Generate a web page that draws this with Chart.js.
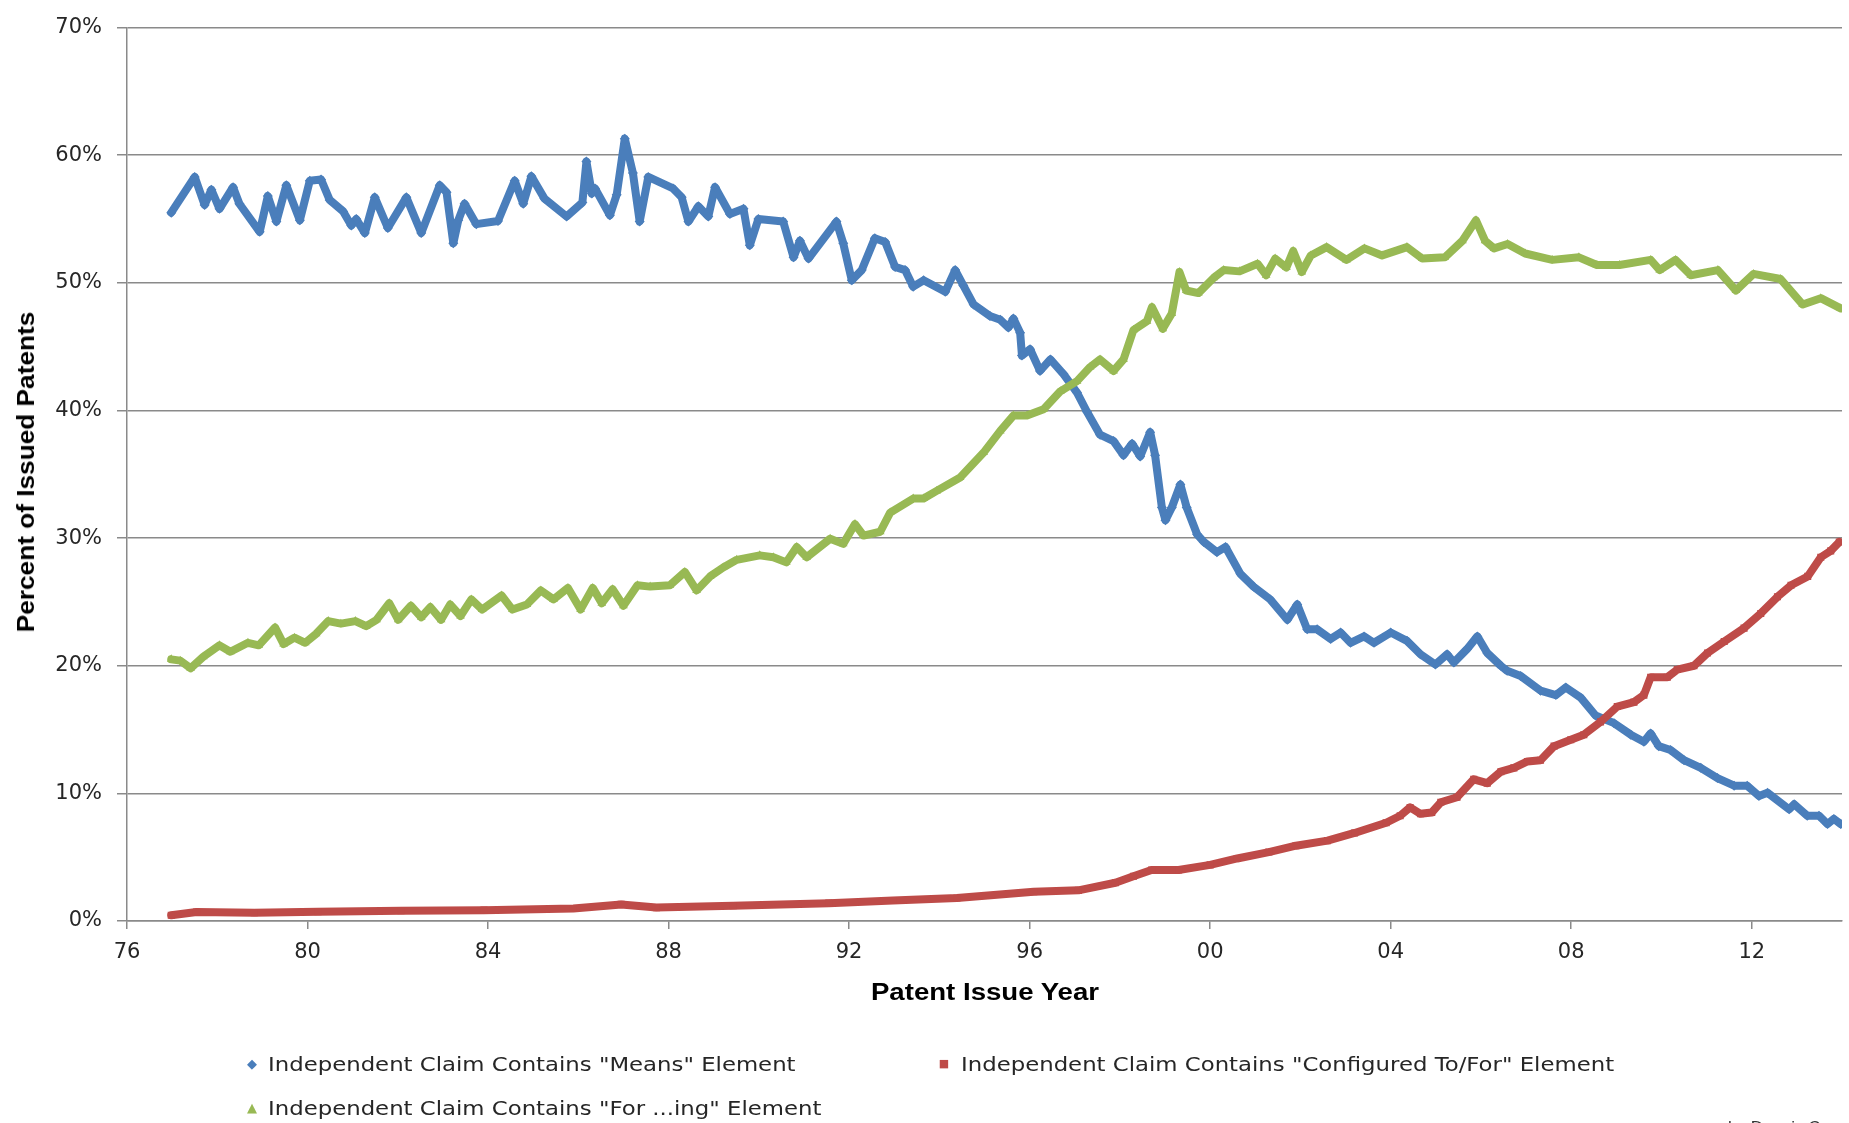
<!DOCTYPE html>
<html><head><meta charset="utf-8">
<script src="https://cdn.jsdelivr.net/npm/chart.js@4.4.1/dist/chart.umd.min.js"></script>
<style>
html,body{margin:0;padding:0;background:#fff;overflow:hidden;width:1849px;height:1123px;}
#wrap{position:relative;width:1849px;height:1123px;overflow:hidden;}
canvas{position:absolute;left:0;top:0;}
.t{position:absolute;white-space:nowrap;color:#000;font-family:"Liberation Sans",Arial,sans-serif;font-weight:bold;font-size:23px;line-height:28px;}
#xt{left:985px;top:992px;transform:translate(-50%,-50%) scaleX(1.2);}
#yt{left:26px;top:472px;transform:translate(-50%,-50%) rotate(-90deg) scaleX(1.14);}
.lg{position:absolute;white-space:nowrap;color:#262626;font-family:"DejaVu Sans",sans-serif;font-size:20px;line-height:24px;transform-origin:left center;transform:scaleX(1.14);}
.mk{position:absolute;line-height:14px;transform:translate(-50%,-50%);font-family:"DejaVu Sans",sans-serif;}
#credit{position:absolute;left:1728px;top:1118px;font-family:"Liberation Sans",Arial,sans-serif;font-size:17px;color:#333;white-space:nowrap;}
</style></head><body>
<div id="wrap">
<canvas id="c" width="1849" height="1123"></canvas>
<div id="xt" class="t">Patent Issue Year</div>
<div id="yt" class="t">Percent of Issued Patents</div>
<div id="legend"></div>
<div id="credit">by Dennis Crouch</div>
</div>
<script>
// ---- data (year offset from 1900, percent) ----
const seriesNames = [
  'Independent Claim Contains "Means" Element',
  'Independent Claim Contains "Configured To/For" Element',
  'Independent Claim Contains "For ...ing" Element'
];
const xTickYears = [76, 80, 84, 88, 92, 96, 100, 104, 108, 112];
const xTickLabels = ['76', '80', '84', '88', '92', '96', '00', '04', '08', '12'];
const yTickValues = [0, 10, 20, 30, 40, 50, 60, 70];

const meansSeries = [
 [76.98,55.5],[77.50,58.3],[77.72,56.1],[77.87,57.3],[78.05,55.8],[78.35,57.5],[78.49,56.2],[78.94,54.0],
 [79.12,56.8],[79.31,54.8],[79.53,57.65],[79.83,54.9],[80.05,58.0],[80.30,58.1],[80.49,56.5],[80.79,55.6],
 [80.97,54.5],[81.08,55.0],[81.27,53.9],[81.49,56.7],[81.78,54.3],[82.19,56.7],[82.52,53.9],[82.93,57.65],
 [83.08,57.1],[83.23,53.1],[83.34,54.9],[83.48,56.2],[83.74,54.6],[84.22,54.85],[84.59,58.0],[84.78,56.2],
 [84.96,58.35],[85.25,56.6],[85.74,55.2],[86.09,56.3],[86.18,59.5],[86.30,57.0],[86.37,57.4],[86.70,55.3],
 [86.85,56.9],[87.03,61.3],[87.21,58.6],[87.36,54.8],[87.55,58.3],[88.10,57.4],[88.29,56.7],[88.44,54.8],
 [88.66,56.0],[88.88,55.2],[89.03,57.5],[89.36,55.4],[89.66,55.8],[89.80,52.95],[89.99,55.0],[90.54,54.8],
 [90.77,52.0],[90.91,53.3],[91.10,51.9],[91.72,54.8],[91.87,53.1],[92.06,50.2],[92.28,51.0],[92.57,53.5],
 [92.80,53.2],[93.02,51.25],[93.24,51.0],[93.42,49.7],[93.65,50.2],[94.13,49.3],[94.35,51.0],[94.53,49.8],
 [94.76,48.3],[95.12,47.4],[95.35,47.1],[95.53,46.5],[95.64,47.2],[95.79,46.1],[95.83,44.3],[96.01,44.8],
 [96.23,43.1],[96.46,44.0],[96.75,42.85],[97.05,41.4],[97.27,39.9],[97.56,38.1],[97.86,37.6],[98.08,36.5],
 [98.27,37.4],[98.45,36.4],[98.67,38.3],[98.78,36.5],[98.93,32.4],[99.01,31.4],[99.15,32.4],[99.34,34.2],
 [99.48,32.4],[99.71,30.3],[99.86,29.7],[100.15,28.9],[100.34,29.3],[100.67,27.2],[100.96,26.2],[101.33,25.2],
 [101.71,23.6],[101.93,24.8],[102.15,22.85],[102.37,22.85],[102.67,22.1],[102.89,22.6],[103.11,21.8],[103.41,22.3],
 [103.63,21.8],[104.00,22.6],[104.36,21.95],[104.66,20.9],[104.99,20.1],[105.25,20.9],[105.40,20.25],[105.69,21.3],
 [105.92,22.3],[106.14,21.0],[106.44,20.0],[106.58,19.6],[106.88,19.2],[107.32,18.05],[107.66,17.7],[107.88,18.3],
 [108.21,17.5],[108.54,16.1],[108.95,15.5],[109.32,14.6],[109.61,14.05],[109.76,14.7],[109.94,13.7],[110.20,13.4],
 [110.50,12.6],[110.87,12.0],[111.24,11.2],[111.61,10.6],[111.90,10.6],[112.16,9.8],[112.35,10.05],[112.83,8.75],
 [112.94,9.15],[113.23,8.25],[113.49,8.25],[113.68,7.6],[113.82,8.0],[113.97,7.6]
];

const configuredSeries = [
 [76.98,0.45],[77.54,0.7],[78.82,0.65],[80.23,0.72],[82.07,0.8],[83.91,0.85],[85.89,0.98],[86.95,1.3],
 [87.73,1.05],[89.43,1.2],[91.55,1.4],[92.97,1.6],[94.39,1.8],[96.09,2.3],[97.08,2.4],[97.90,3.0],
 [98.30,3.5],[98.70,4.0],[99.30,4.0],[100.00,4.4],[100.60,4.9],[101.30,5.4],[101.90,5.9],[102.60,6.3],
 [103.20,6.9],[103.90,7.7],[104.21,8.25],[104.43,8.9],[104.66,8.4],[104.91,8.5],[105.11,9.3],[105.47,9.7],
 [105.84,11.1],[106.14,10.8],[106.44,11.7],[106.73,12.0],[107.03,12.5],[107.32,12.6],[107.62,13.7],[107.99,14.2],
 [108.28,14.6],[108.65,15.6],[109.02,16.8],[109.39,17.15],[109.61,17.7],[109.76,19.1],[110.13,19.1],[110.35,19.7],
 [110.72,20.0],[111.02,21.0],[111.39,21.9],[111.83,22.95],[112.20,24.1],[112.57,25.4],[112.87,26.3],[113.24,27.0],
 [113.53,28.5],[113.75,29.0],[113.94,29.7]
];

const foringSeries = [
 [76.98,20.5],[77.18,20.4],[77.41,19.8],[77.69,20.7],[78.05,21.6],[78.29,21.1],[78.68,21.8],[78.92,21.6],
 [79.28,23.0],[79.47,21.7],[79.71,22.2],[79.95,21.8],[80.19,22.5],[80.46,23.5],[80.74,23.3],[81.06,23.5],
 [81.30,23.1],[81.53,23.6],[81.81,24.9],[82.01,23.6],[82.29,24.7],[82.52,23.8],[82.72,24.6],[82.96,23.6],
 [83.16,24.8],[83.39,23.9],[83.63,25.2],[83.87,24.4],[84.30,25.5],[84.54,24.4],[84.86,24.8],[85.17,25.9],
 [85.45,25.2],[85.77,26.1],[86.05,24.4],[86.32,26.1],[86.52,24.9],[86.76,26.0],[87.00,24.7],[87.31,26.3],
 [87.59,26.2],[88.03,26.3],[88.36,27.35],[88.62,25.9],[88.92,27.0],[89.21,27.7],[89.51,28.3],[90.02,28.65],
 [90.32,28.5],[90.61,28.1],[90.84,29.3],[91.06,28.5],[91.58,29.95],[91.87,29.55],[92.13,31.1],[92.32,30.2],
 [92.69,30.5],[92.91,32.0],[93.42,33.1],[93.65,33.1],[93.94,33.7],[94.46,34.75],[94.98,36.7],[95.35,38.4],
 [95.64,39.6],[95.94,39.6],[96.31,40.1],[96.68,41.5],[97.05,42.3],[97.34,43.4],[97.56,44.0],[97.86,43.1],
 [98.08,44.0],[98.30,46.3],[98.60,47.0],[98.71,48.1],[98.95,46.4],[99.15,47.6],[99.32,50.85],[99.47,49.4],
 [99.74,49.2],[100.08,50.4],[100.30,51.0],[100.65,50.9],[101.05,51.5],[101.24,50.6],[101.44,51.9],[101.69,51.2],
 [101.84,52.5],[102.03,50.85],[102.23,52.15],[102.58,52.8],[103.02,51.8],[103.42,52.7],[103.81,52.15],[104.36,52.8],
 [104.70,51.9],[105.20,52.0],[105.59,53.3],[105.89,54.9],[106.09,53.3],[106.29,52.7],[106.59,53.05],[106.98,52.3],
 [107.58,51.8],[108.17,52.0],[108.57,51.4],[109.07,51.4],[109.76,51.8],[109.96,51.0],[110.31,51.8],[110.65,50.6],
 [111.25,51.0],[111.65,49.4],[112.04,50.7],[112.64,50.3],[113.13,48.3],[113.53,48.8],[113.97,48.0]
];

const seriesColors = ['#4a7ebb', '#be4b48', '#98b954'];
const seriesPointStyles = ['rectRot', 'rect', 'triangle'];
const markerChars = ['\u25C6', '\u25A0', '\u25B2'];

// ---- chart ----
const toPts = s => s.map(p => ({x: p[0], y: p[1]}));
const gridColor = '#8a8a8a';

const ds = (i, data, order) => ({
  label: seriesNames[i], data: toPts(data), showLine: true,
  borderColor: seriesColors[i], backgroundColor: seriesColors[i],
  borderWidth: 8, pointRadius: 5, pointBorderWidth: 0, pointStyle: seriesPointStyles[i],
  borderJoinStyle: 'round', borderCapStyle: 'round',
  tension: 0, order: order
});

new Chart(document.getElementById('c'), {
  type: 'scatter',
  data: { datasets: [ ds(0, meansSeries, 3), ds(1, configuredSeries, 2), ds(2, foringSeries, 1) ] },
  options: {
    responsive: false, animation: false, devicePixelRatio: 1,
    layout: { padding: { top: 20, right: 7, left: 0, bottom: 0 } },
    plugins: { legend: { display: false }, tooltip: { enabled: false } },
    scales: {
      x: {
        type: 'linear', min: 76, max: 114,
        afterFit: s => { s.height = 202; },
        afterBuildTicks: s => { s.ticks = xTickYears.map(v => ({value: v})); },
        ticks: {
          autoSkip: false, maxRotation: 0, padding: 11, color: '#262626',
          font: { family: 'DejaVu Sans', size: 21 },
          callback: v => { const i = xTickYears.indexOf(v); return i >= 0 ? xTickLabels[i] : ''; }
        },
        grid: { drawOnChartArea: false, drawTicks: true, tickLength: 8, color: gridColor, lineWidth: 1.5 },
        border: { display: true, color: gridColor, width: 1.5 }
      },
      y: {
        min: 0, max: 70,
        afterFit: s => { s.width = 127; },
        afterBuildTicks: s => { s.ticks = yTickValues.map(v => ({value: v})); },
        ticks: {
          padding: 15, color: '#262626',
          font: { family: 'DejaVu Sans', size: 21 },
          callback: v => v + '%'
        },
        grid: { drawOnChartArea: true, drawTicks: true, tickLength: 10, color: gridColor, lineWidth: 1.5 },
        border: { display: true, color: gridColor, width: 1.5 }
      }
    }
  }
});

// ---- legend (HTML text) ----
const legendPos = [[252, 268, 1064], [944, 961, 1064], [252, 268, 1108]];
const lg = document.getElementById('legend');
seriesNames.forEach((name, i) => {
  const [mx, tx, cy] = legendPos[i];
  const m = document.createElement('div');
  m.className = 'mk';
  m.textContent = markerChars[i];
  m.style.color = seriesColors[i];
  m.style.fontSize = i === 1 ? '11px' : '13px';
  m.style.left = mx + 'px'; m.style.top = cy + 'px';
  lg.appendChild(m);
  const t = document.createElement('div');
  t.className = 'lg';
  t.textContent = name;
  t.style.left = tx + 'px'; t.style.top = (cy - 12) + 'px';
  lg.appendChild(t);
});
</script>
</body></html>
